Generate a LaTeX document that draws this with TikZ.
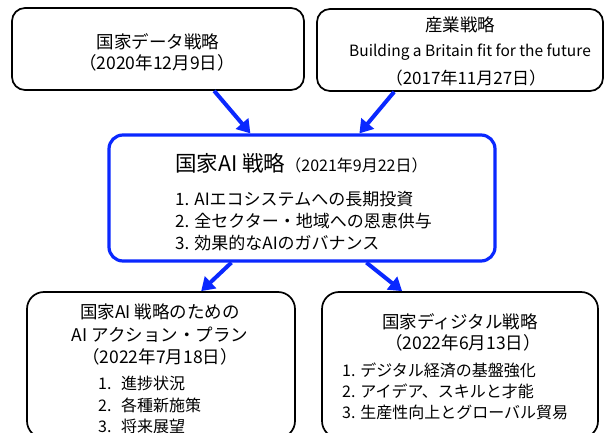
\documentclass[tikz,border=0pt]{standalone}
\usepackage{fontspec}
\setmainfont{Noto Sans CJK JP}
\usetikzlibrary{arrows.meta,calc}
\definecolor{myblue}{RGB}{10,40,255}
\tikzset{
  blackbox/.style={draw=black, line width=1.7pt, rounded corners=13pt, inner sep=0pt},
  bluebox/.style={draw=myblue, line width=3.2pt, rounded corners=14pt, inner sep=0pt},
  txt/.style={inner sep=0pt, anchor=center},
  ltxt/.style={inner sep=0pt, anchor=west},
  conn/.style={draw=myblue, line width=4pt, -{Triangle[length=13pt,width=16pt]}}
}
\newcommand{\fs}[1]{\fontsize{#1}{#1}\selectfont}
\begin{document}
\begin{tikzpicture}[x=1pt,y=-1pt]
\clip (0,0) rectangle (610,433);
\fill[white] (0,0) rectangle (610,433);
% boxes
\node[blackbox, minimum width=292pt, minimum height=82pt] (d1) at (158,49) {};
\node[blackbox, minimum width=286pt, minimum height=82pt] (d2) at (460,50) {};
\node[bluebox, minimum width=386pt, minimum height=126pt] (c) at (302,198) {};
\node[blackbox, minimum width=268pt, minimum height=146pt, rounded corners=17pt] (b1) at (161,365) {};
\node[blackbox, minimum width=276pt, minimum height=146pt, rounded corners=17pt] (b2) at (460,365) {};
% texts box 1
\node[txt] (d1t1) at (158,42) {\fs{17.5}国家データ戦略};
\node[txt] (d1t2) at (157,63) {\fs{17.5}（2020年12月9日）};
% box 2
\node[txt] (d2t1) at (460,25) {\fs{17.5}産業戦略};
\node[txt] (d2t2) at (470,52) {\fs{15.5}Building a Britain fit for the future};
\node[txt] (d2t3) at (466,78) {\fs{17}（2017年11月27日）};
% center
\node[ltxt] (ct1) at (175,163) {\fs{21.5}国家AI 戦略\fs{16}（2021年9月22日）};
\node[ltxt] (ci1) at (175,199) {\fs{17}1. AIエコシステムへの長期投資};
\node[ltxt] (ci2) at (175,221) {\fs{17}2. 全セクター・地域への恩恵供与};
\node[ltxt] (ci3) at (175,243) {\fs{17}3. 効果的なAIのガバナンス};
% bottom left
\node[txt] (b1t1) at (160,312) {\fs{17.5}国家AI 戦略のための};
\node[txt] (b1t2) at (160,335) {\fs{17.5}AI アクション・プラン};
\node[txt] (b1t3) at (160,357) {\fs{17.5}（2022年7月18日）};
\node[ltxt] (b1i1) at (98,383) {\fs{16}1.\hspace{0.6em}進捗状況};
\node[ltxt] (b1i2) at (98,405) {\fs{16}2.\hspace{0.6em}各種新施策};
\node[ltxt] (b1i3) at (98,426) {\fs{16}3.\hspace{0.6em}将来展望};
% bottom right
\node[txt] (b2t1) at (460,322) {\fs{17.5}国家ディジタル戦略};
\node[txt] (b2t2) at (463,343) {\fs{17.5}（2022年6月13日）};
\node[ltxt] (b2i1) at (342,370) {\fs{16}1. デジタル経済の基盤強化};
\node[ltxt] (b2i2) at (342,391) {\fs{16}2. アイデア、スキルと才能};
\node[ltxt] (b2i3) at (342,412) {\fs{16}3. 生産性向上とグローバル貿易};
% connectors
\draw[conn] ([xshift=203pt]d1.south west) -- ([xshift=143pt]c.north west);
\draw[conn] ([xshift=78pt]d2.south west) -- ([xshift=252pt]c.north west);
\draw[conn] ([xshift=124pt]c.south west) -- ([xshift=175pt]b1.north west);
\draw[conn] ([xshift=259pt]c.south west) -- ([xshift=81pt]b2.north west);
\end{tikzpicture}
\end{document}
